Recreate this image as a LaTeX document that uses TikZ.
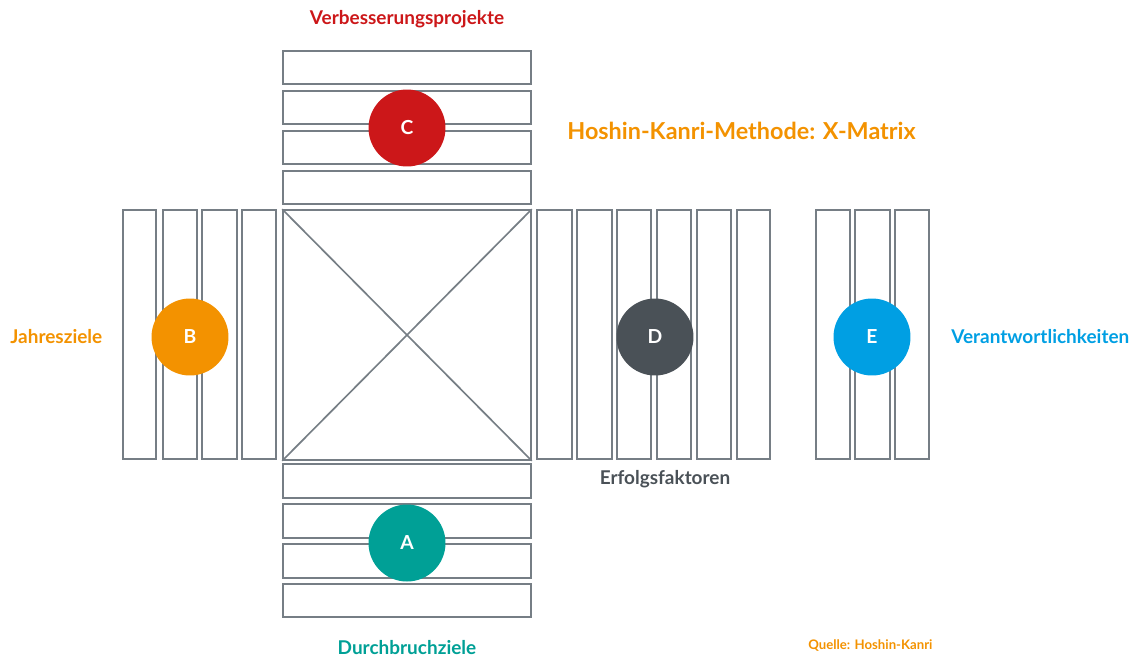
\documentclass[tikz,border=0pt]{standalone}
\usepackage{fontspec}
\setmainfont{Lato}
\usetikzlibrary{fit}
\definecolor{barc}{HTML}{767E85}
\definecolor{cred}{HTML}{CC1719}
\definecolor{corange}{HTML}{F39200}
\definecolor{cteal}{HTML}{00A096}
\definecolor{cdark}{HTML}{4A5157}
\definecolor{cblue}{HTML}{009FE3}
\tikzset{
  bar/.style={draw=barc, line width=0.95pt, inner sep=0pt, fill=white},
  dot/.style={circle, minimum size=1.54cm, inner sep=0pt, text=white, font=\bfseries\fontsize{11}{12}\selectfont},
  lbl/.style={font=\bfseries\fontsize{10.8}{12}\selectfont, inner sep=0pt},
}
\newcommand{\barbox}[5]{\node[bar, fit={(#2,#3) (#4,#5)}] (#1) {};}
\begin{document}
\begin{tikzpicture}[x=0.02cm, y=-0.02cm]
\useasboundingbox (0,0) rectangle (1130,660);
% upper block: improvement projects
\barbox{t1}{283}{51}{531}{84}
\barbox{t2}{283}{91}{531}{124}
\barbox{t3}{283}{131}{531}{164}
\barbox{t4}{283}{171}{531}{204}
% lower block: breakthrough goals
\barbox{b1}{283}{464}{531}{498}
\barbox{b2}{283}{504}{531}{538}
\barbox{b3}{283}{544}{531}{578}
\barbox{b4}{283}{584}{531}{617}
% left block: annual goals
\barbox{l1}{123}{210}{156}{459}
\barbox{l2}{163}{210}{197}{459}
\barbox{l3}{202}{210}{237}{459}
\barbox{l4}{242}{210}{276}{459}
% right block: success factors
\barbox{r1}{537}{210}{572}{459}
\barbox{r2}{577}{210}{612}{459}
\barbox{r3}{617}{210}{651}{459}
\barbox{r4}{657}{210}{691}{459}
\barbox{r5}{697}{210}{731}{459}
\barbox{r6}{737}{210}{770}{459}
% responsibilities
\barbox{e1}{816}{210}{850}{459}
\barbox{e2}{855}{210}{890}{459}
\barbox{e3}{895}{210}{929}{459}
% central square with its cross
\barbox{sq}{283}{210}{531}{460}
\draw[draw=barc, line width=0.95pt] (sq.north west) -- (sq.south east);
\draw[draw=barc, line width=0.95pt] (sq.north east) -- (sq.south west);
% markers
\node[dot, fill=cred] (C) at (407,128) {C};
\node[dot, fill=corange] (B) at (190,337) {B};
\node[dot, fill=cdark] (D) at (655,337) {D};
\node[dot, fill=cblue] (E) at (872,337) {E};
\node[dot, fill=cteal] (A) at (407,543) {A};
% labels
\node[lbl, text=cred] (lc) at (407,19) {Verbesserungsprojekte};
\node[lbl, text=corange, anchor=west] (lb) at (10,337) {Jahresziele};
\node[lbl, text=cdark] (ld) at (665,479) {Erfolgsfaktoren};
\node[lbl, text=cblue, anchor=west] (le) at (951,337) {Verantwortlichkeiten};
\node[lbl, text=cteal] (la) at (407,648) {Durchbruchziele};
\node[font=\bfseries\fontsize{13.3}{15}\selectfont, text=corange, anchor=west, inner sep=0pt] (title) at (567,131) {Hoshin-Kanri-Methode: X-Matrix};
\node[font=\bfseries\fontsize{7.5}{9}\selectfont, text=corange, anchor=west, inner sep=0pt] (src) at (808,646) {Quelle: Hoshin-Kanri};
\end{tikzpicture}
\end{document}
